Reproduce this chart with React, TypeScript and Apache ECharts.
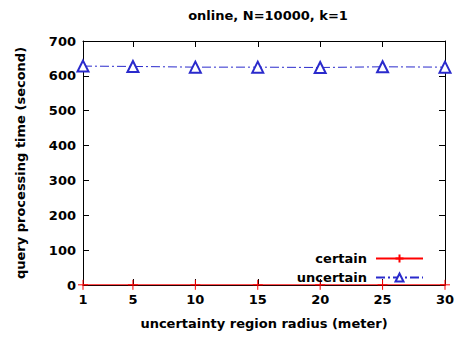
import React, { useEffect, useRef } from "react";
import * as echarts from "echarts";

const radius = [1, 5, 10, 15, 20, 25, 30];
const certainTime = [0.5, 0.5, 0.5, 0.5, 0.5, 0.5, 0.5];
const uncertainTime = [628, 627, 625, 625, 624, 626, 625];
const xTicks = [1, 5, 10, 15, 20, 25, 30];
const titleText = "online, N=10000, k=1";
const xName = "uncertainty region radius (meter)";
const yName = "query processing time (second)";

const FONT = "DejaVu Sans, Liberation Sans, Arial, sans-serif";

export default function App() {
  const ref = useRef<HTMLDivElement>(null);
  useEffect(() => {
    const chart = echarts.init(ref.current!, null, { renderer: "svg" });
    const tickStyle = { show: true, inside: true, length: 6, lineStyle: { color: "#000", width: 1 } };
    const baseX = {
      type: "value" as const,
      min: 1,
      max: 30,
      splitLine: { show: false },
      axisLine: { show: true, onZero: false, lineStyle: { color: "#000", width: 1 } },
    };
    const baseY = {
      type: "value" as const,
      min: 0,
      max: 700,
      interval: 100,
      splitLine: { show: false },
      axisLine: { show: true, onZero: false, lineStyle: { color: "#000", width: 1 } },
    };
    chart.setOption({
      animation: false,
      textStyle: { fontFamily: FONT },
      title: {
        text: titleText,
        left: 263,
        textAlign: "center",
        top: 4,
        textStyle: { fontFamily: FONT, fontWeight: "bold", fontSize: 13, color: "#000" },
      },
      grid: { left: 83, right: 13, top: 41, bottom: 56 },
      xAxis: [
        {
          ...baseX,
          position: "bottom",
          name: xName,
          nameLocation: "middle",
          nameGap: 32,
          nameTextStyle: { fontFamily: FONT, fontWeight: "bold", fontSize: 13, color: "#000" },
          axisTick: { ...tickStyle, customValues: xTicks },
          axisLabel: {
            customValues: xTicks,
            fontFamily: FONT,
            fontWeight: "bold",
            fontSize: 13,
            color: "#000",
            margin: 8,
          },
        },
        {
          ...baseX,
          position: "top",
          axisTick: { ...tickStyle, customValues: xTicks },
          axisLabel: { show: false, customValues: xTicks },
        },
      ],
      yAxis: [
        {
          ...baseY,
          position: "left",
          name: yName,
          nameLocation: "middle",
          nameGap: 56,
          nameTextStyle: { fontFamily: FONT, fontWeight: "bold", fontSize: 13, color: "#000" },
          axisTick: tickStyle,
          axisLabel: { fontFamily: FONT, fontWeight: "bold", fontSize: 13, color: "#000", margin: 7 },
        },
        {
          ...baseY,
          position: "right",
          axisTick: tickStyle,
          axisLabel: { show: false },
        },
      ],
      legend: {
        right: 29,
        top: 247,
        orient: "vertical",
        align: "right",
        itemWidth: 47,
        itemHeight: 10,
        itemGap: 6,
        textStyle: { fontFamily: FONT, fontWeight: "bold", fontSize: 13, color: "#000", padding: [0, 4, 0, 0] },
        data: ["certain", "uncertain"],
      },
      series: [
        {
          name: "uncertain",
          type: "line",
          data: radius.map((r, i) => [r, uncertainTime[i]]),
          symbol: "emptyTriangle",
          symbolSize: 11,
          lineStyle: { color: "#2a2acc", width: 1, type: [9, 3, 2, 3] },
          itemStyle: { color: "#2a2acc", borderColor: "#2a2acc", borderWidth: 1.3 },
        },
        {
          name: "certain",
          type: "line",
          data: radius.map((r, i) => [r, certainTime[i]]),
          symbol: "path://M5,0L5,10M0,5L10,5",
          symbolSize: 10,
          lineStyle: { color: "#ff0000", width: 1 },
          itemStyle: { color: "#ff0000", borderColor: "#ff0000", borderWidth: 1 },
        },
      ],
    });
    return () => chart.dispose();
  }, []);
  return <div ref={ref} style={{ width: 458, height: 341, position: "absolute", left: 0, top: 0 }} />;
}
